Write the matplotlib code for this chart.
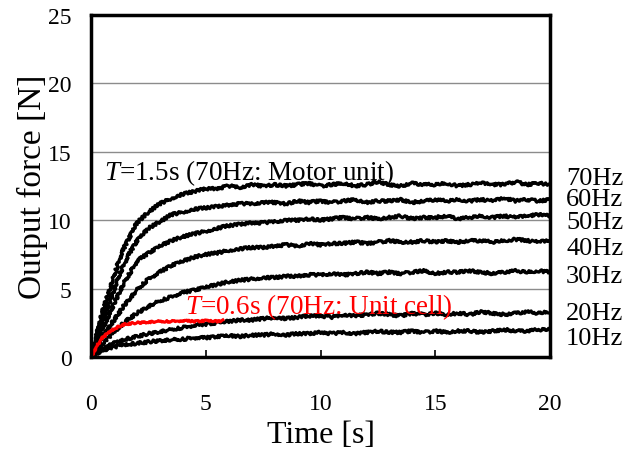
import matplotlib
matplotlib.use("Agg")
import matplotlib.pyplot as plt

# Tiempo [s]
tiempo = [0, 0.25, 0.5, 0.75, 1.0, 1.25, 1.5, 1.75, 2.0, 2.5, 3.0, 3.5, 4.0, 4.5, 5.0,
          5.5, 6.0, 6.5, 7.0, 7.5, 8.0, 8.5, 9.0, 9.5, 10.0, 10.5, 11.0, 11.5, 12.0,
          12.5, 13.0, 13.5, 14.0, 14.5, 15.0, 15.5, 16.0, 16.5, 17.0, 17.5, 18.0,
          18.5, 19.0, 19.5, 20.0]

# Fuerza de salida [N] (motor unit) para cada frecuencia
f70 = [0, 1.6, 3.3, 4.6, 5.9, 7.2, 8.2, 9.0, 9.8, 10.6, 11.2, 11.6, 11.9, 12.1, 12.3,
       12.3, 12.5, 12.4, 12.6, 12.5, 12.6, 12.5, 12.6, 12.7, 12.5, 12.6, 12.7, 12.5, 12.6,
       12.8, 12.6, 12.5, 12.7, 12.6, 12.6, 12.7, 12.5, 12.6, 12.7, 12.6, 12.6, 12.8, 12.6,
       12.7, 12.6]
f60 = [0, 1.2, 2.7, 3.8, 4.9, 6.1, 7.0, 7.8, 8.5, 9.4, 9.9, 10.4, 10.6, 10.8, 10.9,
       11.0, 11.1, 11.2, 11.2, 11.3, 11.3, 11.2, 11.4, 11.3, 11.4, 11.3, 11.4, 11.5, 11.3,
       11.4, 11.4, 11.5, 11.3, 11.4, 11.5, 11.4, 11.5, 11.4, 11.5, 11.4, 11.6, 11.4, 11.5,
       11.4, 11.5]
f50 = [0, 0.9, 2.0, 3.0, 3.9, 4.8, 5.6, 6.3, 7.0, 7.6, 8.1, 8.5, 8.8, 9.0, 9.2,
       9.4, 9.6, 9.7, 9.8, 9.8, 9.9, 10.0, 10.0, 10.1, 10.0, 10.1, 10.2, 10.1, 10.2,
       10.1, 10.2, 10.3, 10.1, 10.2, 10.2, 10.3, 10.1, 10.2, 10.3, 10.2, 10.3, 10.2, 10.3,
       10.4, 10.3]
f40 = [0, 0.6, 1.4, 2.1, 2.7, 3.3, 3.9, 4.4, 4.9, 5.7, 6.2, 6.7, 7.0, 7.3, 7.5,
       7.6, 7.8, 7.9, 8.0, 8.0, 8.1, 8.2, 8.1, 8.3, 8.2, 8.3, 8.3, 8.4, 8.3,
       8.4, 8.5, 8.4, 8.4, 8.5, 8.4, 8.5, 8.4, 8.5, 8.5, 8.4, 8.5, 8.6, 8.5,
       8.4, 8.5]
f30 = [0, 0.4, 0.9, 1.4, 1.8, 2.2, 2.6, 2.9, 3.2, 3.7, 4.1, 4.4, 4.7, 4.9, 5.1,
       5.3, 5.5, 5.6, 5.7, 5.8, 5.8, 5.9, 5.9, 6.0, 6.0, 6.1, 6.0, 6.1, 6.2,
       6.1, 6.2, 6.1, 6.2, 6.3, 6.1, 6.2, 6.2, 6.3, 6.2, 6.1, 6.2, 6.3, 6.2,
       6.3, 6.2]
f20 = [0, 0.3, 0.6, 0.8, 1.0, 1.15, 1.3, 1.4, 1.5, 1.7, 1.85, 2.0, 2.15, 2.3, 2.4,
       2.5, 2.6, 2.7, 2.7, 2.8, 2.9, 2.8, 2.9, 3.0, 3.0, 2.9, 3.1, 3.0, 3.1,
       3.2, 3.1, 3.0, 3.2, 3.1, 3.2, 3.1, 3.2, 3.1, 3.3, 3.2, 3.1, 3.2, 3.3,
       3.2, 3.3]
f10 = [0, 0.25, 0.45, 0.6, 0.7, 0.85, 0.9, 0.95, 1.0, 1.1, 1.2, 1.25, 1.3, 1.4, 1.4,
       1.5, 1.55, 1.5, 1.6, 1.6, 1.7, 1.6, 1.7, 1.7, 1.8, 1.7, 1.8, 1.7, 1.8,
       1.9, 1.8, 1.8, 1.9, 1.8, 1.9, 1.8, 1.9, 1.9, 1.8, 1.9, 2.0, 1.9, 1.9,
       2.0, 2.0]

curvas = [f70, f60, f50, f40, f30, f20, f10]
etiquetas = ['70Hz', '60Hz', '50Hz', '40Hz', '30Hz', '20Hz', '10Hz']
pos_etiquetas = [13.1, 11.55, 9.85, 8.0, 5.95, 3.2, 1.35]

# Unit cell (70Hz)
tiempo_celda = [0, 0.25, 0.5, 0.75, 1.0, 1.25, 1.5, 2.0, 2.5, 3.0, 3.5, 4.0, 4.5, 5.0, 5.5, 5.75]
f_celda = [0, 0.8, 1.4, 1.75, 2.05, 2.25, 2.4, 2.5, 2.55, 2.6, 2.6, 2.65, 2.6, 2.65, 2.6, 2.65]

plt.rcParams['font.family'] = ['Liberation Serif', 'DejaVu Serif']
plt.rcParams['mathtext.fontset'] = 'custom'
plt.rcParams['mathtext.rm'] = 'Liberation Serif'
plt.rcParams['mathtext.it'] = 'Liberation Serif:italic'

fig = plt.figure(figsize=(6.29, 4.56), dpi=100)
ax = fig.add_axes([0.1447, 0.215, 0.7297, 0.75])

for y in [5, 10, 15, 20]:
    ax.axhline(y, color='#8c8c8c', lw=1.0, zorder=0)

for f in curvas:
    linea, = ax.plot(tiempo, f, color='black', lw=2.3)
    linea.set_sketch_params(scale=1.4, length=2.5, randomness=3)

rojo, = ax.plot(tiempo_celda, f_celda, color='red', lw=2.2)
rojo.set_sketch_params(scale=0.9, length=2.5, randomness=3)

for lab, yp in zip(etiquetas, pos_etiquetas):
    ax.text(20.7, yp, lab, fontsize=19, va='center', ha='left', clip_on=False)

ax.text(0.55, 13.5, r'$\it{T}$=1.5s (70Hz: Motor unit)', fontsize=19.5, va='center')
ax.text(4.1, 3.75, r'$\it{T}$=0.6s (70Hz: Unit cell)', fontsize=19.5, va='center', color='red')

ax.set_xlim(0, 20)
ax.set_ylim(0, 25)
ax.set_xticks([0, 5, 10, 15, 20])
ax.set_yticks([0, 5, 10, 15, 20, 25])
ax.tick_params(axis='x', direction='in', length=5, width=1.2, pad=26, labelsize=17)
ax.tick_params(axis='y', length=0, pad=14, labelsize=17)
for s in ax.spines.values():
    s.set_linewidth(2.5)

ax.set_xlabel('Time [s]', fontsize=23, labelpad=4)
ax.set_ylabel('Output force [N]', fontsize=24, labelpad=0)

fig.savefig('out.png', dpi=100)
